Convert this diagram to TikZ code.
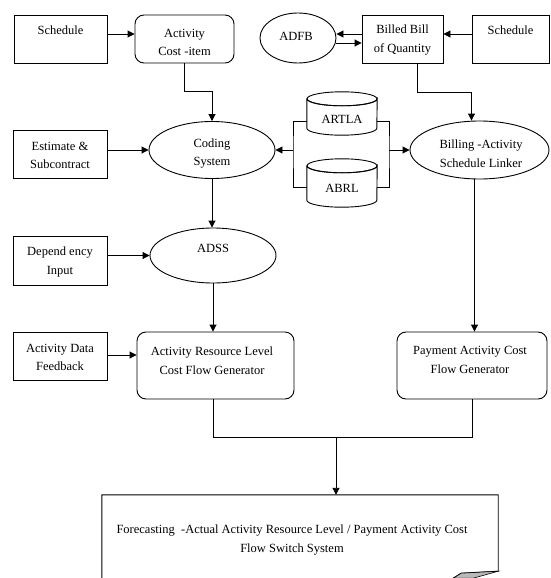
\documentclass[tikz,border=0pt]{standalone}
\usepackage{fontspec}
\setmainfont{Liberation Serif}
\usetikzlibrary{arrows.meta,shapes.geometric}
\begin{document}
\begin{tikzpicture}[x=1pt,y=-1pt,
  every node/.style={font=\fontsize{12.5}{18.8}\selectfont, align=center, inner sep=0pt},
  sqbox/.style={draw, rectangle, line width=0.9pt},
  rbox/.style={draw, rectangle, rounded corners=9pt, line width=0.9pt},
  ell/.style={draw, ellipse, line width=0.9pt},
  plain/.style={rectangle},
  arr/.style={-{Triangle[length=7pt,width=7pt]}, line width=0.9pt},
  ln/.style={line width=0.9pt}]
\fill[white] (0,0) rectangle (550,578);
\useasboundingbox (0,0) rectangle (550,578);

% left column shapes
\node[sqbox, minimum width=93pt, minimum height=48pt] (sch1) at (60.5,39) {};
\node[rbox, minimum width=99pt, minimum height=48pt] (act) at (184.5,39) {};
\node[ell, minimum width=126pt, minimum height=57pt] (coding) at (212,150) {};
\node[sqbox, minimum width=94pt, minimum height=48pt] (est) at (60,154) {};
\node[sqbox, minimum width=94pt, minimum height=49pt] (dep) at (60,260.5) {};
\node[ell, minimum width=126pt, minimum height=55pt] (adss) at (213,255.5) {};
\node[sqbox, minimum width=94pt, minimum height=48pt] (adf) at (60,356) {};
\node[rbox, minimum width=157pt, minimum height=67pt] (arl) at (215.5,365.5) {};

% right column shapes
\node[ell, minimum width=76pt, minimum height=50pt] (adfb) at (298,38) {};
\node[sqbox, minimum width=81pt, minimum height=48pt] (bbq) at (402.5,39) {};
\node[sqbox, minimum width=77pt, minimum height=48pt] (sch2) at (510.5,39) {};
\node[ell, minimum width=139pt, minimum height=58pt] (linker) at (479.5,150) {};
\node[rbox, minimum width=150pt, minimum height=67pt] (pay) at (472,365.5) {};

% texts
\node[plain] (sch1t) at (60.5,30) {Schedule};
\node[plain] (actt) at (184.5,42.5) {Activity\\Cost -item};
\node[plain] (codingt) at (212,153.5) {Coding\\System};
\node[plain] (estt) at (60,155.5) {Estimate \&\\Subcontract};
\node[plain] (dept) at (60,262) {Depend ency\\Input};
\node[plain] (adsst) at (213,248) {ADSS};
\node[plain] (adft) at (60,357.5) {Activity Data\\Feedback};
\node[plain] (arlt) at (212,361) {Activity Resource Level\\Cost Flow Generator};
\node[plain] (adfbt) at (296,36) {ADFB};
\node[plain] (bbqt) at (402.5,40) {Billed Bill\\of Quantity};
\node[plain] (sch2t) at (510.5,30) {Schedule};
\node[plain] (linkert) at (481,153.5) {Billing -Activity\\Schedule Linker};
\node[plain] (payt) at (470,360) {Payment Activity Cost\\Flow Generator};

% cylinders
\node[plain, minimum width=70pt, minimum height=43pt] (artla) at (342,113.5) {};
\node[plain, minimum width=70pt, minimum height=48pt] (abrl) at (342,183) {};
\foreach \n in {artla,abrl}{
  \filldraw[ln, fill=white] ([yshift=-7]\n.north west) -- ([yshift=7]\n.south west)
    arc[start angle=180, end angle=360, x radius=35pt, y radius=7pt]
    -- ([yshift=-7]\n.north east)
    arc[start angle=0, end angle=-180, x radius=35pt, y radius=7pt] -- cycle;
  \draw[ln] ([yshift=-7]\n.north) ellipse [x radius=35pt, y radius=7pt];
}
\node[plain] (artlat) at (342,119) {ARTLA};
\node[plain] (abrlt) at (342,188) {ABRL};
\coordinate (bl) at (293,150);
\coordinate (br) at (389,150);

% bottom document
\node[plain, minimum width=396pt, minimum height=83pt] (doc) at (300,536.5) {};
\node[plain] (doct) at (292,540) {Forecasting~ -Actual Activity Resource Level / Payment Activity Cost\\Flow Switch System};
\draw[ln] (doc.south west) -- (doc.north west) -- (doc.north east) -- ([yshift=7]doc.south east) -- ++(-37,2) -- ++(-8,5);
\filldraw[ln, fill=gray!55, line width=0.6pt] ([yshift=7]doc.south east) -- ++(-37,2) -- ++(-8,5) -- ++(20,0) -- cycle;

% connectors
\draw[arr] ([yshift=5]sch1.east) -- ([yshift=5]act.west);
\draw[arr] (act.south) -- ++(0,28) -| (coding.north);
\draw[arr] (est.east |- coding.west) -- (coding.west);
\draw[arr] (coding.south) -- (coding.south |- adss.north);
\draw[arr] (dep.east |- adss.west) -- (adss.west);
\draw[arr] (adss.south) -- (adss.south |- arl.north);
\draw[arr] ([yshift=1]adf.east) -- ([yshift=1]adf.east -| arl.west);

\draw[arr] ([yshift=5]sch2.west) -- ([yshift=5]bbq.east);
\draw[arr] ([yshift=5]bbq.west) -- ([yshift=4]adfb.east);
\draw[arr] ([yshift=-5]adfb.east) -- ([yshift=-4]bbq.west);
\draw[arr] ([xshift=15]bbq.south) -- ++(0,29) -| ([xshift=-8]linker.north);
\draw[arr] ([xshift=-5]linker.south) -- ([xshift=-5]linker.south |- pay.north);

\draw[ln] ([yshift=-7.5]artla.west) -| (bl) |- ([yshift=-4]abrl.west);
\draw[ln] ([yshift=-7.5]artla.east) -| (br) |- ([yshift=-4]abrl.east);
\draw[arr] (bl) -- (coding.east);
\draw[arr] (br) -- (linker.west);

\coordinate (mrg) at (336,437.5);
\draw[ln] ([xshift=-2.5]arl.south) |- (mrg) -| (pay.south);
\draw[arr] (mrg) -- (mrg |- doc.north);
\end{tikzpicture}
\end{document}
